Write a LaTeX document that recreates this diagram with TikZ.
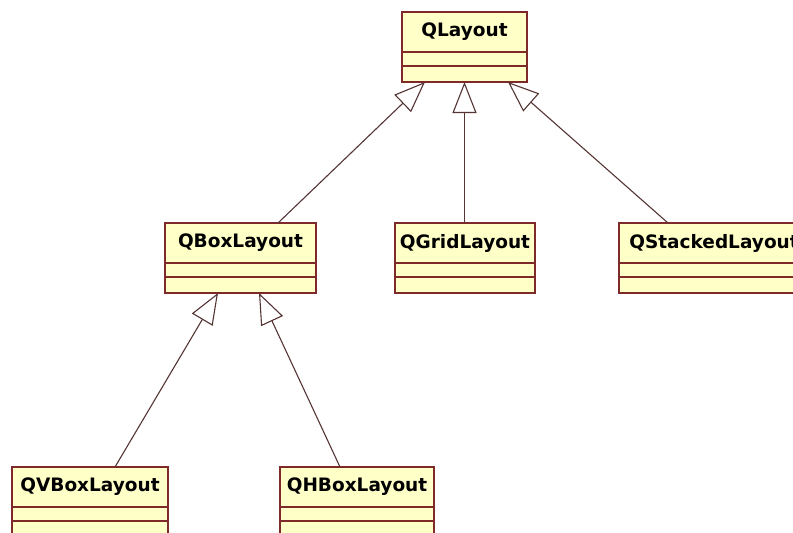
\documentclass[tikz,border=0pt]{standalone}
\usepackage{fontspec}
\setmainfont{DejaVu Sans}
\usetikzlibrary{arrows.meta,calc}

\definecolor{classfill}{HTML}{FFFFC8}
\definecolor{classedge}{HTML}{7E2A2A}
\definecolor{linkcol}{HTML}{553434}

\tikzset{
  namebox/.style={draw=classedge, fill=classfill, line width=1.6pt,
    minimum height=40pt, inner sep=0pt, outer sep=0pt, anchor=north west,
    font=\fontsize{18.5}{21}\selectfont\bfseries},
  compbox/.style={draw=classedge, fill=classfill, line width=1.6pt,
    inner sep=0pt, outer sep=0pt, anchor=north},
  inherits/.style={draw=linkcol, line width=1.1pt,
    -{Triangle[open, length=31pt, width=24pt, fill=white]}},
}

% One UML class: name compartment plus two empty compartments
% #1 name, #2 left x, #3 top y, #4 width, #5 class name
\newcommand\umlclass[5]{%
  \node[namebox, minimum width=#4] (#1) at (#2,#3) {#5};
  \node[compbox, minimum width=#4, minimum height=14pt] (#1-attr) at (#1.south) {};
  \node[compbox, minimum width=#4, minimum height=16pt] (#1-ops) at (#1-attr.south) {};
}

\begin{document}
\begin{tikzpicture}[x=1pt, y=-1pt]
  \useasboundingbox (0,0) rectangle (793,533);
  \begin{scope}
    \clip (0,0) rectangle (793,533);

    \umlclass{qlayout}{402}{12}{125pt}{QLayout}
    \umlclass{qbox}{165}{223}{151pt}{QBoxLayout}
    \umlclass{qgrid}{395}{223}{140pt}{QGridLayout}
    \umlclass{qstacked}{619}{223}{190pt}{QStackedLayout}
    \umlclass{qvbox}{12}{467}{156pt}{QVBoxLayout}
    \umlclass{qhbox}{280}{467}{154pt}{QHBoxLayout}

    % attachment points on the parents' lower edges
    \coordinate (ql-a) at ([xshift=-39.5pt]qlayout-ops.south);
    \coordinate (ql-b) at ([xshift=0pt]qlayout-ops.south);
    \coordinate (ql-c) at ([xshift=43.5pt]qlayout-ops.south);
    \coordinate (qb-a) at ([xshift=-22.5pt]qbox-ops.south);
    \coordinate (qb-b) at ([xshift=18.5pt]qbox-ops.south);

    % generalisation links
    \draw[inherits] ([xshift=37.5pt]qbox.north) -- (ql-a);
    \draw[inherits] (qgrid.north -| ql-b) -- (ql-b);
    \draw[inherits] ([xshift=-46pt]qstacked.north) -- (ql-c);
    \draw[inherits] ([xshift=25pt]qvbox.north) -- (qb-a);
    \draw[inherits] ([xshift=-17pt]qhbox.north) -- (qb-b);
  \end{scope}
\end{tikzpicture}
\end{document}
